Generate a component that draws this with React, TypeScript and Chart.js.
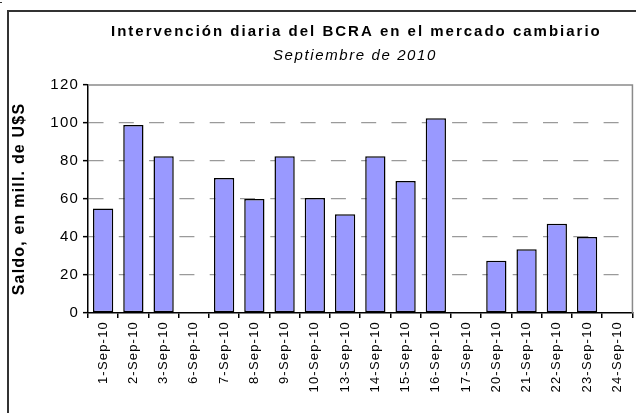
import React, { useEffect, useRef } from 'react';
import { Chart, registerables } from 'chart.js';

Chart.register(...registerables);

const categories = [
  '1-Sep-10', '2-Sep-10', '3-Sep-10', '6-Sep-10', '7-Sep-10', '8-Sep-10',
  '9-Sep-10', '10-Sep-10', '13-Sep-10', '14-Sep-10', '15-Sep-10', '16-Sep-10',
  '17-Sep-10', '20-Sep-10', '21-Sep-10', '22-Sep-10', '23-Sep-10', '24-Sep-10',
];
const saldo = [55, 99, 82.5, 0, 71, 60, 82.5, 60.5, 52, 82.5, 69.5, 102.5, 0, 27.5, 33.5, 47, 40, 0];
const yTicks = [0, 20, 40, 60, 80, 100, 120];
const titleText = 'Intervención diaria del BCRA en el mercado cambiario';
const subtitleText = 'Septiembre de 2010';
const yTitleText = 'Saldo, en mill. de U$S';

const FONT = '"Liberation Sans", Arial, sans-serif';
const AXIS_SPACING = '1.2px';

const spacingPlugin = {
  id: 'spacing',
  beforeUpdate(chart: any) { chart.ctx.letterSpacing = AXIS_SPACING; },
  beforeLayout(chart: any) { chart.ctx.letterSpacing = AXIS_SPACING; },
  beforeDraw(chart: any) { chart.ctx.letterSpacing = AXIS_SPACING; },
};

const framePlugin = {
  id: 'frame',
  beforeDatasetsDraw(chart: any) {
    const { ctx, chartArea } = chart;
    ctx.save();
    ctx.strokeStyle = '#8a8a8a';
    ctx.lineWidth = 1.5;
    ctx.beginPath();
    ctx.moveTo(chartArea.left, chartArea.top);
    ctx.lineTo(chartArea.right, chartArea.top);
    ctx.lineTo(chartArea.right, chartArea.bottom);
    ctx.stroke();
    ctx.restore();
  },
  afterDraw(chart: any) {
    const { ctx } = chart;
    ctx.save();
    ctx.fillStyle = '#333333';
    ctx.fillRect(7, 10, 629, 2);
    ctx.fillRect(7, 10, 2, 403);
    ctx.fillRect(0, 2, 2, 1);
    ctx.fillStyle = '#000000';
    ctx.textBaseline = 'alphabetic';
    ctx.textAlign = 'left';
    ctx.letterSpacing = '2px';
    ctx.font = `bold 15px ${FONT}`;
    ctx.fillText(titleText, 111, 36);
    ctx.letterSpacing = '1.6px';
    ctx.font = `italic 15px ${FONT}`;
    ctx.fillText(subtitleText, 273, 60);
    ctx.restore();
  },
};

export default function App() {
  const ref = useRef<HTMLCanvasElement | null>(null);

  useEffect(() => {
    const canvas = ref.current;
    if (!canvas) return;
    const chart = new Chart(canvas, {
      type: 'bar',
      data: {
        labels: categories,
        datasets: [
          {
            data: saldo,
            backgroundColor: '#9999FF',
            borderColor: '#000000',
            borderWidth: 1.5,
            borderSkipped: false,
            barPercentage: 0.67,
            categoryPercentage: 1,
          },
        ],
      },
      options: {
        responsive: false,
        animation: false,
        devicePixelRatio: 1,
        layout: { padding: { top: 85, left: 0, right: 3, bottom: 0 } },
        plugins: {
          legend: { display: false },
          tooltip: { enabled: false },
          title: { display: false },
        },
        scales: {
          x: {
            afterFit(scale: any) { scale.height = 100; },
            grid: {
              display: true,
              drawOnChartArea: false,
              offset: true,
              tickLength: 5,
              color: '#000000',
              lineWidth: 1.5,
            },
            border: { display: true, color: '#000000', width: 1.5 },
            ticks: {
              autoSkip: false,
              minRotation: 90,
              maxRotation: 90,
              padding: 3,
              color: '#000000',
              font: { family: FONT, size: 13 },
            },
          },
          y: {
            min: 0,
            max: 120,
            afterFit(scale: any) { scale.width = 88; },
            afterBuildTicks(scale: any) { scale.ticks = yTicks.map((v) => ({ value: v })); },
            grid: {
              color: (c: any) => (c.tick && (c.tick.value === 0 || c.tick.value === 120) ? 'rgba(0,0,0,0)' : '#9a9a9a'),
              lineWidth: 1.3,
              tickLength: 5,
              tickColor: '#000000',
              tickWidth: 1.5,
              tickBorderDash: [],
            },
            border: { display: true, color: '#000000', width: 1.5, dash: [15, 15.3], dashOffset: 0 },
            ticks: {
              padding: 4,
              color: '#000000',
              font: { family: FONT, size: 15 },
            },
            title: {
              display: true,
              text: yTitleText,
              color: '#000000',
              font: { family: FONT, size: 16, weight: 'bold' },
              padding: { top: 10, bottom: 0 },
            },
          },
        },
      },
      plugins: [spacingPlugin, framePlugin],
    } as any);
    return () => chart.destroy();
  }, []);

  return (
    <div style={{ position: 'fixed', left: 0, top: 0, width: 636, height: 413, background: '#ffffff' }}>
      <canvas ref={ref} width={636} height={413} style={{ width: 636, height: 413, display: 'block' }} />
    </div>
  );
}
